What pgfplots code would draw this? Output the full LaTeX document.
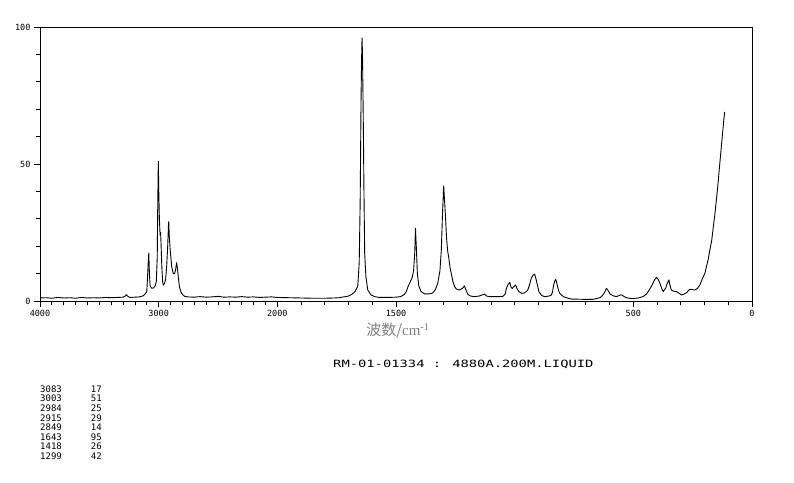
\documentclass[border=0pt]{standalone}
\usepackage{pgfplots}
\pgfplotsset{compat=1.18}
\usepackage{fontspec}
\usepackage{graphicx}
\setmainfont{DejaVu Sans Mono}
\setmonofont{DejaVu Sans Mono}
\newfontfamily\cjk{Noto Sans CJK SC}
\newfontfamily\serif{Liberation Serif}

% Raman spectrum, wavenumber (cm^-1) vs intensity
\pgfplotstableread{
wn   I
4000 1.1
3950 1.2
3900 1.0
3850 1.3
3800 1.1
3750 1.2
3700 1.0
3650 1.3
3600 1.1
3550 1.2
3500 1.1
3450 1.3
3400 1.2
3350 1.3
3300 1.4
3285 1.7
3272 2.3
3262 1.8
3245 1.3
3200 1.4
3160 1.5
3130 1.9
3110 2.8
3100 3.5
3093 9.5
3088 14
3083 17.5
3078 10
3072 5.5
3060 4.7
3045 4.7
3030 5.5
3020 7
3012 16
3008 34
3003 51
2999 40
2994 30
2988 24
2984 25
2980 21
2973 12
2966 7
2961 5.8
2950 6.5
2941 8
2932 13
2924 20
2918 27
2915 29
2911 24
2903 18.6
2890 12.5
2877 10
2866 10
2857 11.5
2849 14
2842 12
2835 9
2825 5.2
2810 3
2795 2.2
2780 1.7
2760 1.5
2700 1.4
2650 1.6
2600 1.4
2550 1.5
2500 1.7
2450 1.4
2400 1.5
2350 1.4
2300 1.6
2250 1.4
2200 1.5
2150 1.3
2100 1.4
2050 1.5
2000 1.3
1950 1.2
1900 1.1
1850 1.0
1800 1.0
1760 1.1
1740 1.2
1720 1.5
1700 1.8
1685 2.5
1672 3.5
1661 5.5
1655 14
1651 36
1647 76
1644 93
1643 96
1641 89
1638 67
1635 40
1632 17.5
1627 9
1619 4
1605 2.2
1590 1.6
1570 1.3
1530 1.3
1500 1.4
1480 1.6
1465 2.4
1457 3.4
1448 5.5
1440 7
1432 8.5
1426 11
1421 17.5
1418 26.5
1414 19
1410 10
1404 5.5
1395 3.5
1380 2.6
1360 2.6
1346 2.9
1335 4
1324 6.5
1315 11
1309 18.6
1304 32
1299 42
1295 36
1291 30
1287 23
1282 18
1278 16
1272 12
1267 10
1260 7
1253 5.2
1246 4.4
1235 4.0
1225 4.4
1218 4.8
1212 5.5
1205 4.0
1197 2.4
1185 1.8
1169 1.6
1150 1.8
1138 2.2
1127 2.5
1118 1.8
1106 1.6
1090 1.6
1070 1.6
1050 1.7
1040 2.5
1035 4.6
1028 6
1021 6.8
1015 5
1010 4.6
1003 5.3
996 5.8
990 4.5
982 3.4
970 2.8
960 2.9
950 3.5
944 4.2
937 6
930 8.3
922 9.5
916 9.8
909 7.7
902 5
898 3.4
886 2.0
874 1.6
855 1.8
845 2.2
840 3.5
836 5.8
831 7.3
827 7.9
823 6.8
820 5.5
815 3.8
810 2.8
795 1.6
782 1.2
760 0.7
700 0.6
671 0.6
655 0.9
641 1.2
630 2
622 3
613 4.6
606 3.8
599 2.6
585 1.9
571 1.6
560 2.0
550 2.3
540 1.7
529 1.2
510 0.9
501 0.9
480 1.1
459 1.6
445 2.5
431 4.3
420 6
410 7.8
402 8.6
395 7.8
388 6.5
380 4.5
374 3.4
368 4.2
364 4.6
357 6.5
350 7.7
345 5.5
340 4
330 3.6
318 3.4
307 2.8
297 2.2
287 2.5
276 3
268 3.8
262 4.3
252 4.2
241 4
230 4.6
220 5.8
210 8
199 10
192 12.5
185 15
178 18.5
170 22
163 27
156 32
150 37
143 43
138 48
133 52.7
128 57.5
123 62
119 66
115 69
}\spectrum

\begin{document}
\begin{tikzpicture}
\path[use as bounding box] (0,0) rectangle (794pt,482pt);
\begin{axis}[
  at={(40pt,181pt)}, anchor=south west, scale only axis,
  width=712pt, height=274pt,
  xmin=0, xmax=6, ymin=0, ymax=100,
  % 4000-2000 is drawn at half the scale of 2000-0
  x filter/.expression={x>=2000 ? (4000-x)/1000 : 2+(2000-x)/500},
  xtick={0,1,2,3,5,6}, xticklabels={4000,3000,2000,1500,500,0},
  minor xtick={0.1,0.2,0.3,0.4,0.5,0.6,0.7,0.8,0.9,1.1,1.2,1.3,1.4,1.5,1.6,1.7,1.8,1.9,
    2.2,2.4,2.6,2.8,3.2,3.4,3.6,3.8,4,4.2,4.4,4.6,4.8,5.2,5.4,5.6,5.8},
  ytick={0,50,100}, minor ytick={10,20,30,40,60,70,80,90},
  tick pos=left, tick align=outside,
  major tick length=6pt, minor tick length=3.5pt,
  tick style={black, line width=0.8pt},
  axis line style={line width=0.8pt},
  ticklabel style={font=\fontsize{8.5}{8.5}\selectfont},
  /pgf/number format/assume math mode=true,
]
\addplot[black, line width=0.9pt, line join=round, mark=none] table[x=wn, y=I] {\spectrum};
\end{axis}
\node[text=black!50, font=\cjk\fontsize{15}{15}\selectfont] at (398pt,151pt) {波数/{\serif cm}\textsuperscript{\serif -1}};
\node[anchor=base west, inner sep=0pt] at (333pt,114.7pt) {\scalebox{1.38}[1]{\fontsize{10}{10}\selectfont RM-01-01334 : 4880A.200M.LIQUID}};
\begin{scope}[every node/.style={inner sep=0pt, font=\fontsize{9}{9}\selectfont}]
\node[anchor=base west] at (40pt,89.7pt) {3083}; \node[anchor=base east] at (102pt,89.7pt) {17};
\node[anchor=base west] at (40pt,80.1pt) {3003}; \node[anchor=base east] at (102pt,80.1pt) {51};
\node[anchor=base west] at (40pt,70.6pt) {2984}; \node[anchor=base east] at (102pt,70.6pt) {25};
\node[anchor=base west] at (40pt,61.0pt) {2915}; \node[anchor=base east] at (102pt,61.0pt) {29};
\node[anchor=base west] at (40pt,51.4pt) {2849}; \node[anchor=base east] at (102pt,51.4pt) {14};
\node[anchor=base west] at (40pt,41.9pt) {1643}; \node[anchor=base east] at (102pt,41.9pt) {95};
\node[anchor=base west] at (40pt,32.3pt) {1418}; \node[anchor=base east] at (102pt,32.3pt) {26};
\node[anchor=base west] at (40pt,22.7pt) {1299}; \node[anchor=base east] at (102pt,22.7pt) {42};
\end{scope}
\end{tikzpicture}
\end{document}
